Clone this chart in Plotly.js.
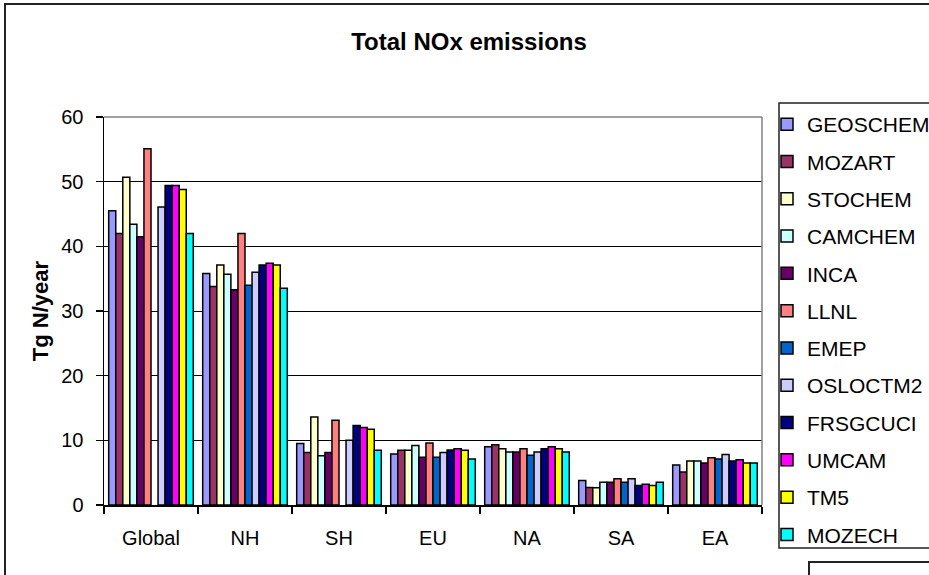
<!DOCTYPE html>
<html><head><meta charset="utf-8">
<script src="https://cdn.plot.ly/plotly-3.0.1.min.js"></script>
<style>html,body{margin:0;padding:0;background:#fff;}#chart{width:929px;height:575px;}</style>
</head><body><div id="chart"></div>
<script>
// ---- data ----
const regions = ["Global", "NH", "SH", "EU", "NA", "SA", "EA"];
const models = ["GEOSCHEM", "MOZART", "STOCHEM", "CAMCHEM", "INCA", "LLNL", "EMEP", "OSLOCTM2", "FRSGCUCI", "UMCAM", "TM5", "MOZECH"];
const GEOSCHEM = [45.5, 35.8, 9.5, 7.9, 9.0, 3.8, 6.2];
const MOZART   = [42.0, 33.8, 8.1, 8.45, 9.3, 2.7, 5.1];
const STOCHEM  = [50.7, 37.1, 13.6, 8.45, 8.7, 2.65, 6.8];
const CAMCHEM  = [43.4, 35.7, 7.6, 9.2, 8.2, 3.5, 6.8];
const INCA     = [41.5, 33.3, 8.1, 7.4, 8.2, 3.5, 6.5];
const LLNL     = [55.1, 42.0, 13.1, 9.6, 8.7, 4.05, 7.3];
const EMEP     = [null, 34.0, null, 7.4, 7.7, 3.5, 7.1];
const OSLOCTM2 = [46.1, 36.0, 10.0, 8.1, 8.2, 4.05, 7.8];
const FRSGCUCI = [49.4, 37.1, 12.3, 8.5, 8.7, 3.0, 6.8];
const UMCAM    = [49.4, 37.4, 12.0, 8.7, 9.0, 3.2, 7.0];
const TM5      = [48.8, 37.1, 11.7, 8.45, 8.7, 3.0, 6.5];
const MOZECH   = [42.0, 33.5, 8.45, 7.1, 8.2, 3.5, 6.5];
const seriesValues = [GEOSCHEM, MOZART, STOCHEM, CAMCHEM, INCA, LLNL, EMEP, OSLOCTM2, FRSGCUCI, UMCAM, TM5, MOZECH];
const colors = ["#9999FF", "#993366", "#FFFFCC", "#CCFFFF", "#660066", "#FF8080", "#0066CC", "#CCCCFF", "#000080", "#FF00FF", "#FFFF00", "#00FFFF"];
const yTicks = [0, 10, 20, 30, 40, 50, 60];

// ---- layout helpers (pixel -> paper) ----
const L = 104, R = 762, T = 117, B = 505;
const px = p => (p - L) / (R - L);
const py = p => (B - p) / (B - T);
const FONT = "Liberation Sans, Arial, sans-serif";

const traces = models.map((m, i) => ({
  type: "bar",
  name: m,
  x: regions,
  y: seriesValues[i],
  legendgroup: m,
  marker: {color: colors[i], line: {color: "#000", width: 1.5}},
  hoverinfo: "name+y"
}));

const shapes = [
  // outer chart frame
  {type: "rect", xref: "paper", yref: "paper", x0: px(5), x1: px(945), y0: py(4), y1: py(600),
   line: {color: "#222", width: 2}, fillcolor: "rgba(0,0,0,0)", layer: "below"},
  // plot area top and right border (grey)
  {type: "line", xref: "paper", yref: "paper", x0: 0, x1: 1, y0: 1, y1: 1, line: {color: "#808080", width: 1.5}, layer: "above"},
  {type: "line", xref: "paper", yref: "paper", x0: 1, x1: 1, y0: 0, y1: 1, line: {color: "#808080", width: 1.5}, layer: "above"},
  // legend box
  {type: "rect", xref: "paper", yref: "paper", x0: px(779), x1: px(945), y0: py(103), y1: py(548),
   line: {color: "#222", width: 1.5}, fillcolor: "rgba(0,0,0,0)", layer: "below"},
  // small box lower right
  {type: "rect", xref: "paper", yref: "paper", x0: px(809), x1: px(945), y0: py(562), y1: py(600),
   line: {color: "#222", width: 2}, fillcolor: "rgba(0,0,0,0)", layer: "below"}
];

const layout = {
  width: 929, height: 575,
  margin: {l: L, r: 929 - R, t: T, b: 575 - B, autoexpand: false},
  paper_bgcolor: "#fff", plot_bgcolor: "#fff",
  font: {family: FONT, color: "#000", size: 20},
  title: {text: "<b>Total NOx emissions</b>", font: {family: FONT, size: 24, color: "#000"},
          x: 469 / 929, xanchor: "center", xref: "container", y: 1 - 42 / 575, yanchor: "middle", yref: "container"},
  barmode: "group", bargap: 0.1, bargroupgap: 0,
  showlegend: true,
  legend: {x: px(767), xanchor: "left", y: py(104), yanchor: "top", bgcolor: "rgba(0,0,0,0)",
           borderwidth: 0, font: {family: FONT, size: 21, color: "#000"}, tracegroupgap: 7,
           traceorder: "grouped", maxheight: 560},
  xaxis: {type: "category", showline: true, linecolor: "#000", linewidth: 1.5, ticks: "outside", tickson: "boundaries",
          ticklen: 7, tickcolor: "#000", tickwidth: 1.5, showgrid: false, ticklabelstandoff: 14,
          tickfont: {family: FONT, size: 20, color: "#000"}, fixedrange: true},
  yaxis: {range: [0, 60], tickvals: yTicks, showline: true, linecolor: "#000", linewidth: 1.5, ticks: "outside",
          ticklen: 7, tickcolor: "#000", tickwidth: 1.5, showgrid: true, gridcolor: "#000", gridwidth: 1,
          zeroline: false, ticklabelstandoff: 8, tickfont: {family: FONT, size: 20, color: "#000"},
          title: {text: "<b>Tg N/year</b>", font: {family: FONT, size: 22, color: "#000"}, standoff: 6}, fixedrange: true},
  shapes: shapes
};

Plotly.newPlot("chart", traces, layout, {displayModeBar: false, staticPlot: true});
</script>
</body></html>
